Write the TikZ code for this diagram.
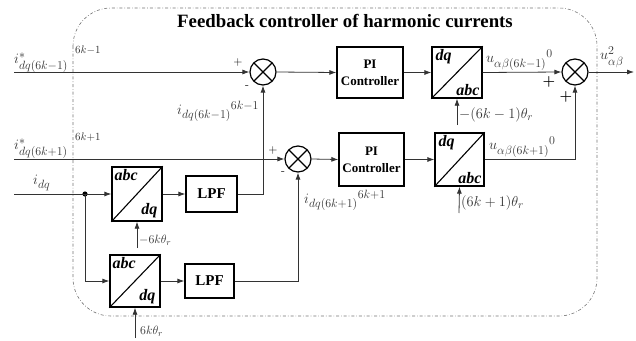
\documentclass[tikz,border=0pt]{standalone}
\usepackage{fontspec}
\usepackage{amsmath}
\DeclareMathSizes{14}{14}{11.5}{9}
\newfontfamily\timesb{Liberation Serif}
\usetikzlibrary{arrows.meta,calc}
\begin{document}
\begin{tikzpicture}[x=1pt,y=-1pt,
  blk/.style={draw=black,line width=1.3pt,minimum width=#1,inner sep=0pt},
  sumc/.style={draw=black,line width=1.2pt,circle,minimum size=26pt,inner sep=0pt,path picture={
     \draw[line width=1.1pt] (path picture bounding box.north west)--(path picture bounding box.south east)
       (path picture bounding box.north east)--(path picture bounding box.south west);}},
  sig/.style={draw=black!80,line width=0.8pt,-{Latex[length=7pt,width=5pt]}},
  wire/.style={draw=black!80,line width=0.8pt},
  lbl/.style={inner sep=0pt,text=black!80,font=\fontsize{14}{16}\selectfont},
  bt/.style={inner sep=0pt,font=\timesb\bfseries\itshape\fontsize{16}{16}\selectfont},
  sgn/.style={inner sep=0pt,font=\fontsize{12}{12}\selectfont},
  pit/.style={align=center,font=\timesb\bfseries\fontsize{13}{17}\selectfont}
]
\useasboundingbox (0,0) rectangle (636,340);
% border
\draw[black!55,line width=0.6pt,dash dot,rounded corners=38pt] (73,8) rectangle (597,316);
\node[inner sep=0pt,font=\timesb\bfseries\fontsize{18.8}{19}\selectfont] (title) at (345,21) {Feedback controller of harmonic currents};

% blocks
\node[sumc] (s1) at (263,72) {};
\node[sumc] (s2) at (298,159) {};
\node[sumc] (s3) at (575,72) {};
\node[blk=66pt,minimum height=51pt,pit] (pi1) at (370,72.5) {PI\\Controller};
\node[blk=65pt,minimum height=53pt,pit] (pi2) at (371.5,159.5) {PI\\Controller};
\node[blk=50pt,minimum height=51pt] (t1) at (457,72.5) {};
\node[blk=49pt,minimum height=53pt] (t2) at (459.5,159.5) {};
\node[blk=50pt,minimum height=54pt] (a1) at (137,194) {};
\node[blk=50pt,minimum height=52pt] (a2) at (135,281) {};
\node[blk=51pt,minimum height=36pt,font=\timesb\bfseries\fontsize{15}{15}\selectfont] (l1) at (211.5,194) {LPF};
\node[blk=49pt,minimum height=34pt,font=\timesb\bfseries\fontsize{15}{15}\selectfont] (l2) at (209.5,281) {LPF};
\foreach \b in {t1,t2,a1,a2}{\draw[line width=1.1pt] (\b.south west)--(\b.north east);}
\node[bt,anchor=north west] (t1u) at ($(t1.north west)+(4,3)$) {dq};
\node[bt,anchor=south east] (t1d) at ($(t1.south east)+(-3,-3)$) {abc};
\node[bt,anchor=north west] (t2u) at ($(t2.north west)+(4,3)$) {dq};
\node[bt,anchor=south east] (t2d) at ($(t2.south east)+(-3,-3)$) {abc};
\node[bt,anchor=north west] (a1u) at ($(a1.north west)+(3,3)$) {abc};
\node[bt,anchor=south east] (a1d) at ($(a1.south east)+(-5,-4)$) {dq};
\node[bt,anchor=north west] (a2u) at ($(a2.north west)+(3,3)$) {abc};
\node[bt,anchor=south east] (a2d) at ($(a2.south east)+(-5,-4)$) {dq};

% coordinates
\coordinate (in1) at (14,72);
\coordinate (in2) at (14,159);
\coordinate (in3) at (14,194);
\coordinate (out) at (634,72);
\fill[black] (85,194) circle (2.6pt) coordinate (dot);
\coordinate (th1) at (457,125);
\coordinate (th2) at (459,213);
\coordinate (th3) at (137,248);
\coordinate (th4) at (135,338);

% connectors
\draw[sig] (in1) -- (s1.west);
\draw[sig] (s1.east) -- (pi1.west);
\draw[sig] (pi1.east) -- (t1.west);
\draw[sig] (t1.east) -- (s3.west);
\draw[sig] (s3.east) -- (out);
\draw[sig] (in2) -- (s2.west);
\draw[sig] (s2.east) -- (pi2.west);
\draw[sig] (pi2.east) -- (t2.west);
\draw[sig] (t2.east) -| (s3.south);
\draw[wire] (in3) -- (dot);
\draw[sig] (dot) -- (a1.west);
\draw[sig] (dot) |- (a2.west);
\draw[sig] (a1.east) -- (l1.west);
\draw[sig] (a2.east) -- (l2.west);
\draw[sig] (l1.east) -| (s1.south);
\draw[sig] (l2.east) -| (s2.south);
\draw[sig] (th1) -- (t1.south);
\draw[sig] (th2) -- (t2.south);
\draw[sig] (th3) -- (a1.south);
\draw[sig] (th4) -- (a2.south);

% signs
\node[sgn] (p1) at (238,62) {$+$};
\node[sgn] (m1) at (247,87) {-};
\node[sgn] (p2) at (273,150) {$+$};
\node[sgn] (m2) at (283,173) {-};
\node[sgn,font=\bfseries\fontsize{15}{15}\selectfont] (p3) at (549,82) {$\boldsymbol{+}$};
\node[sgn,font=\bfseries\fontsize{15}{15}\selectfont] (p4) at (566,97) {$\boldsymbol{+}$};

% labels
\node[lbl,anchor=west] (i1) at (14,63) {$i^{*}_{dq(6k-1)}$};
\node[lbl,anchor=west,font=\fontsize{10.5}{10}\selectfont] (i1s) at (75,50) {$6k{-}1$};
\node[lbl,anchor=west] (i2) at (14,149) {$i^{*}_{dq(6k+1)}$};
\node[lbl,anchor=west,font=\fontsize{10.5}{10}\selectfont] (i2s) at (75,137) {$6k{+}1$};
\node[lbl,anchor=west] (i3) at (33,183) {$i_{dq}$};
\node[lbl,anchor=west] (f1) at (177,111) {${i_{dq(6k-1)}}^{6k-1}$};
\node[lbl,anchor=west] (f2) at (304,200) {${i_{dq(6k+1)}}^{6k+1}$};
\node[lbl,anchor=west] (u1) at (486,60) {${u_{\alpha\beta(6k-1)}}^{0}$};
\node[lbl,anchor=west] (u2) at (489,147) {${u_{\alpha\beta(6k+1)}}^{0}$};
\node[lbl,anchor=west] (u3) at (600,57) {$u^{2}_{\alpha\beta}$};
\node[lbl,anchor=west,font=\fontsize{15}{15}\selectfont] (g1) at (459,115) {$-(6k-1)\theta_r$};
\node[lbl,anchor=west,font=\fontsize{15}{15}\selectfont] (g2) at (461,203) {$(6k+1)\theta_r$};
\node[lbl,anchor=west,font=\fontsize{13}{13}\selectfont] (g3) at (139,240) {$-6k\theta_r$};
\node[lbl,anchor=west,font=\fontsize{13}{13}\selectfont] (g4) at (140,331) {$6k\theta_r$};
\end{tikzpicture}
\end{document}
